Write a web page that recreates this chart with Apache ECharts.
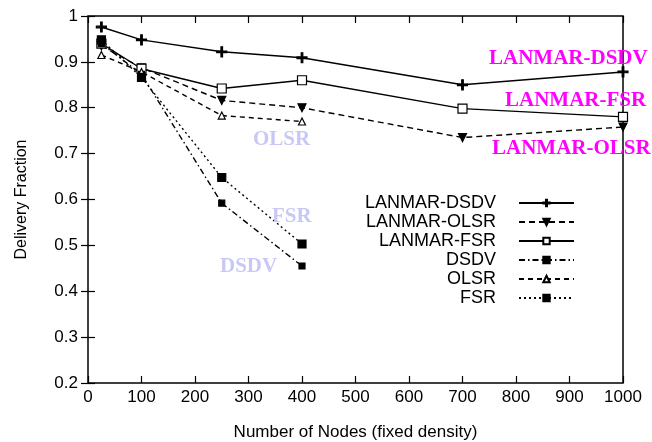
<!DOCTYPE html>
<html><head><meta charset="utf-8">
<script src="https://cdn.jsdelivr.net/npm/echarts@6/dist/echarts.min.js"></script>
<style>html,body{margin:0;padding:0;background:#fff}#c{width:652px;height:442px}</style>
</head><body><div id="c"></div>
<script>
const nodes = [25, 100, 250, 400, 700, 1000];
const nodesShort = [25, 100, 250, 400];
const lanmarDsdv = [0.976, 0.948, 0.922, 0.909, 0.850, 0.878];
const lanmarOlsr = [0.935, 0.887, 0.816, 0.800, 0.735, 0.758];
const lanmarFsr  = [0.940, 0.885, 0.842, 0.860, 0.798, 0.780];
const dsdv = [0.940, 0.873, 0.592, 0.455];
const olsr = [0.915, 0.878, 0.783, 0.770];
const fsr  = [0.948, 0.866, 0.648, 0.503];
const xTicks = [0, 100, 200, 300, 400, 500, 600, 700, 800, 900, 1000];
const yTicks = [0.2, 0.3, 0.4, 0.5, 0.6, 0.7, 0.8, 0.9, 1];
const legendNames = ['LANMAR-DSDV', 'LANMAR-OLSR', 'LANMAR-FSR', 'DSDV', 'OLSR', 'FSR'];
const magentaLabels = ['LANMAR-DSDV', 'LANMAR-FSR', 'LANMAR-OLSR'];
const blueLabels = ['OLSR', 'FSR', 'DSDV'];

const FONT = '"Liberation Sans", Arial, sans-serif';
const SERIF = '"Liberation Serif", "Times New Roman", serif';
const pair = (xs, ys) => xs.map((x, i) => [x, ys[i]]);
const PLUS = 'path://M4.2,0H5.8V4.2H10V5.8H5.8V10H4.2V5.8H0V4.2H4.2Z';
const TRI_DOWN = 'path://M0,0L10,0L5,9Z';

function mk(name, data, symbol, size, fill, type) {
  return {
    name, type: 'line', data, symbol, symbolSize: size,
    lineStyle: { color: '#000', width: 1.4, type: type },
    itemStyle: { color: fill, borderColor: '#000', borderWidth: 1.2 },
    emphasis: { disabled: true }, animation: false
  };
}

const chart = echarts.init(document.getElementById('c'));
const axisCommon = {
  type: 'value', min: 0, max: 1000, interval: 100,
  axisLine: { show: false }, splitLine: { show: false },
  axisTick: { inside: true, length: 7, lineStyle: { color: '#000', width: 1.2 } }
};
const yCommon = {
  type: 'value', min: 0.2, max: 1, interval: 0.1,
  axisLine: { show: false }, splitLine: { show: false },
  axisTick: { inside: true, length: 7, lineStyle: { color: '#000', width: 1.2 } }
};
chart.setOption({
  backgroundColor: '#fff',
  animation: false,
  grid: { left: 88, right: 29, top: 16, bottom: 59, show: true, borderColor: '#000', borderWidth: 1.5,
    backgroundColor: 'transparent', containLabel: false, outerBoundsMode: 'none' },
  xAxis: [
    Object.assign({}, axisCommon, {
      position: 'bottom',
      name: 'Number of Nodes (fixed density)', nameLocation: 'middle', nameGap: 41,
      nameTextStyle: { fontFamily: FONT, fontSize: 17, color: '#000' },
      axisLabel: { fontFamily: FONT, fontSize: 17, color: '#000', margin: 6,
        formatter: v => String(v) }
    }),
    Object.assign({}, axisCommon, { position: 'top', axisLabel: { show: false } })
  ],
  yAxis: [
    Object.assign({}, yCommon, {
      position: 'left',
      name: 'Delivery Fraction', nameLocation: 'middle', nameGap: 58,
      nameTextStyle: { fontFamily: FONT, fontSize: 16, color: '#000' },
      axisLabel: { fontFamily: FONT, fontSize: 17, color: '#000', margin: 10,
        formatter: v => (Math.abs(v - 1) < 1e-9 ? '1' : v.toFixed(1)) }
    }),
    Object.assign({}, yCommon, { position: 'right', axisLabel: { show: false } })
  ],
  legend: {
    data: legendNames, orient: 'vertical', align: 'right',
    right: 72, top: 189, itemWidth: 55, itemHeight: 8, itemGap: 1,
    textStyle: { fontFamily: FONT, fontSize: 18, color: '#000', padding: [0, 18, 0, 0] },
    inactiveColor: '#000', selectedMode: false
  },
  series: [
    mk('LANMAR-DSDV', pair(nodes, lanmarDsdv), PLUS, 10, '#000', 'solid'),
    mk('LANMAR-OLSR', pair(nodes, lanmarOlsr), TRI_DOWN, 8, '#000', [6, 4]),
    mk('LANMAR-FSR', pair(nodes, lanmarFsr), 'rect', 9, '#fff', 'solid'),
    mk('DSDV', pair(nodesShort, dsdv), 'rect', 6, '#000', [6, 3, 1.5, 3]),
    mk('OLSR', pair(nodesShort, olsr), 'triangle', 7, '#fff', [5, 4]),
    mk('FSR', pair(nodesShort, fsr), 'rect', 8, '#000', [2, 3])
  ],
  graphic: [
    { type: 'text', z: 100, left: 489, top: 48, style: { text: magentaLabels[0], fill: '#ff00ff', font: 'bold 21px ' + SERIF } },
    { type: 'text', z: 100, left: 505, top: 90, style: { text: magentaLabels[1], fill: '#ff00ff', font: 'bold 21px ' + SERIF } },
    { type: 'text', z: 100, left: 492, top: 138, style: { text: magentaLabels[2], fill: '#ff00ff', font: 'bold 21px ' + SERIF } },
    { type: 'text', z: 100, left: 253, top: 129, style: { text: blueLabels[0], fill: '#c8c8f6', font: 'bold 21px ' + SERIF } },
    { type: 'text', z: 100, left: 272, top: 206, style: { text: blueLabels[1], fill: '#c8c8f6', font: 'bold 21px ' + SERIF } },
    { type: 'text', z: 100, left: 220, top: 256, style: { text: blueLabels[2], fill: '#c8c8f6', font: 'bold 21px ' + SERIF } }
  ]
});
</script></body></html>
